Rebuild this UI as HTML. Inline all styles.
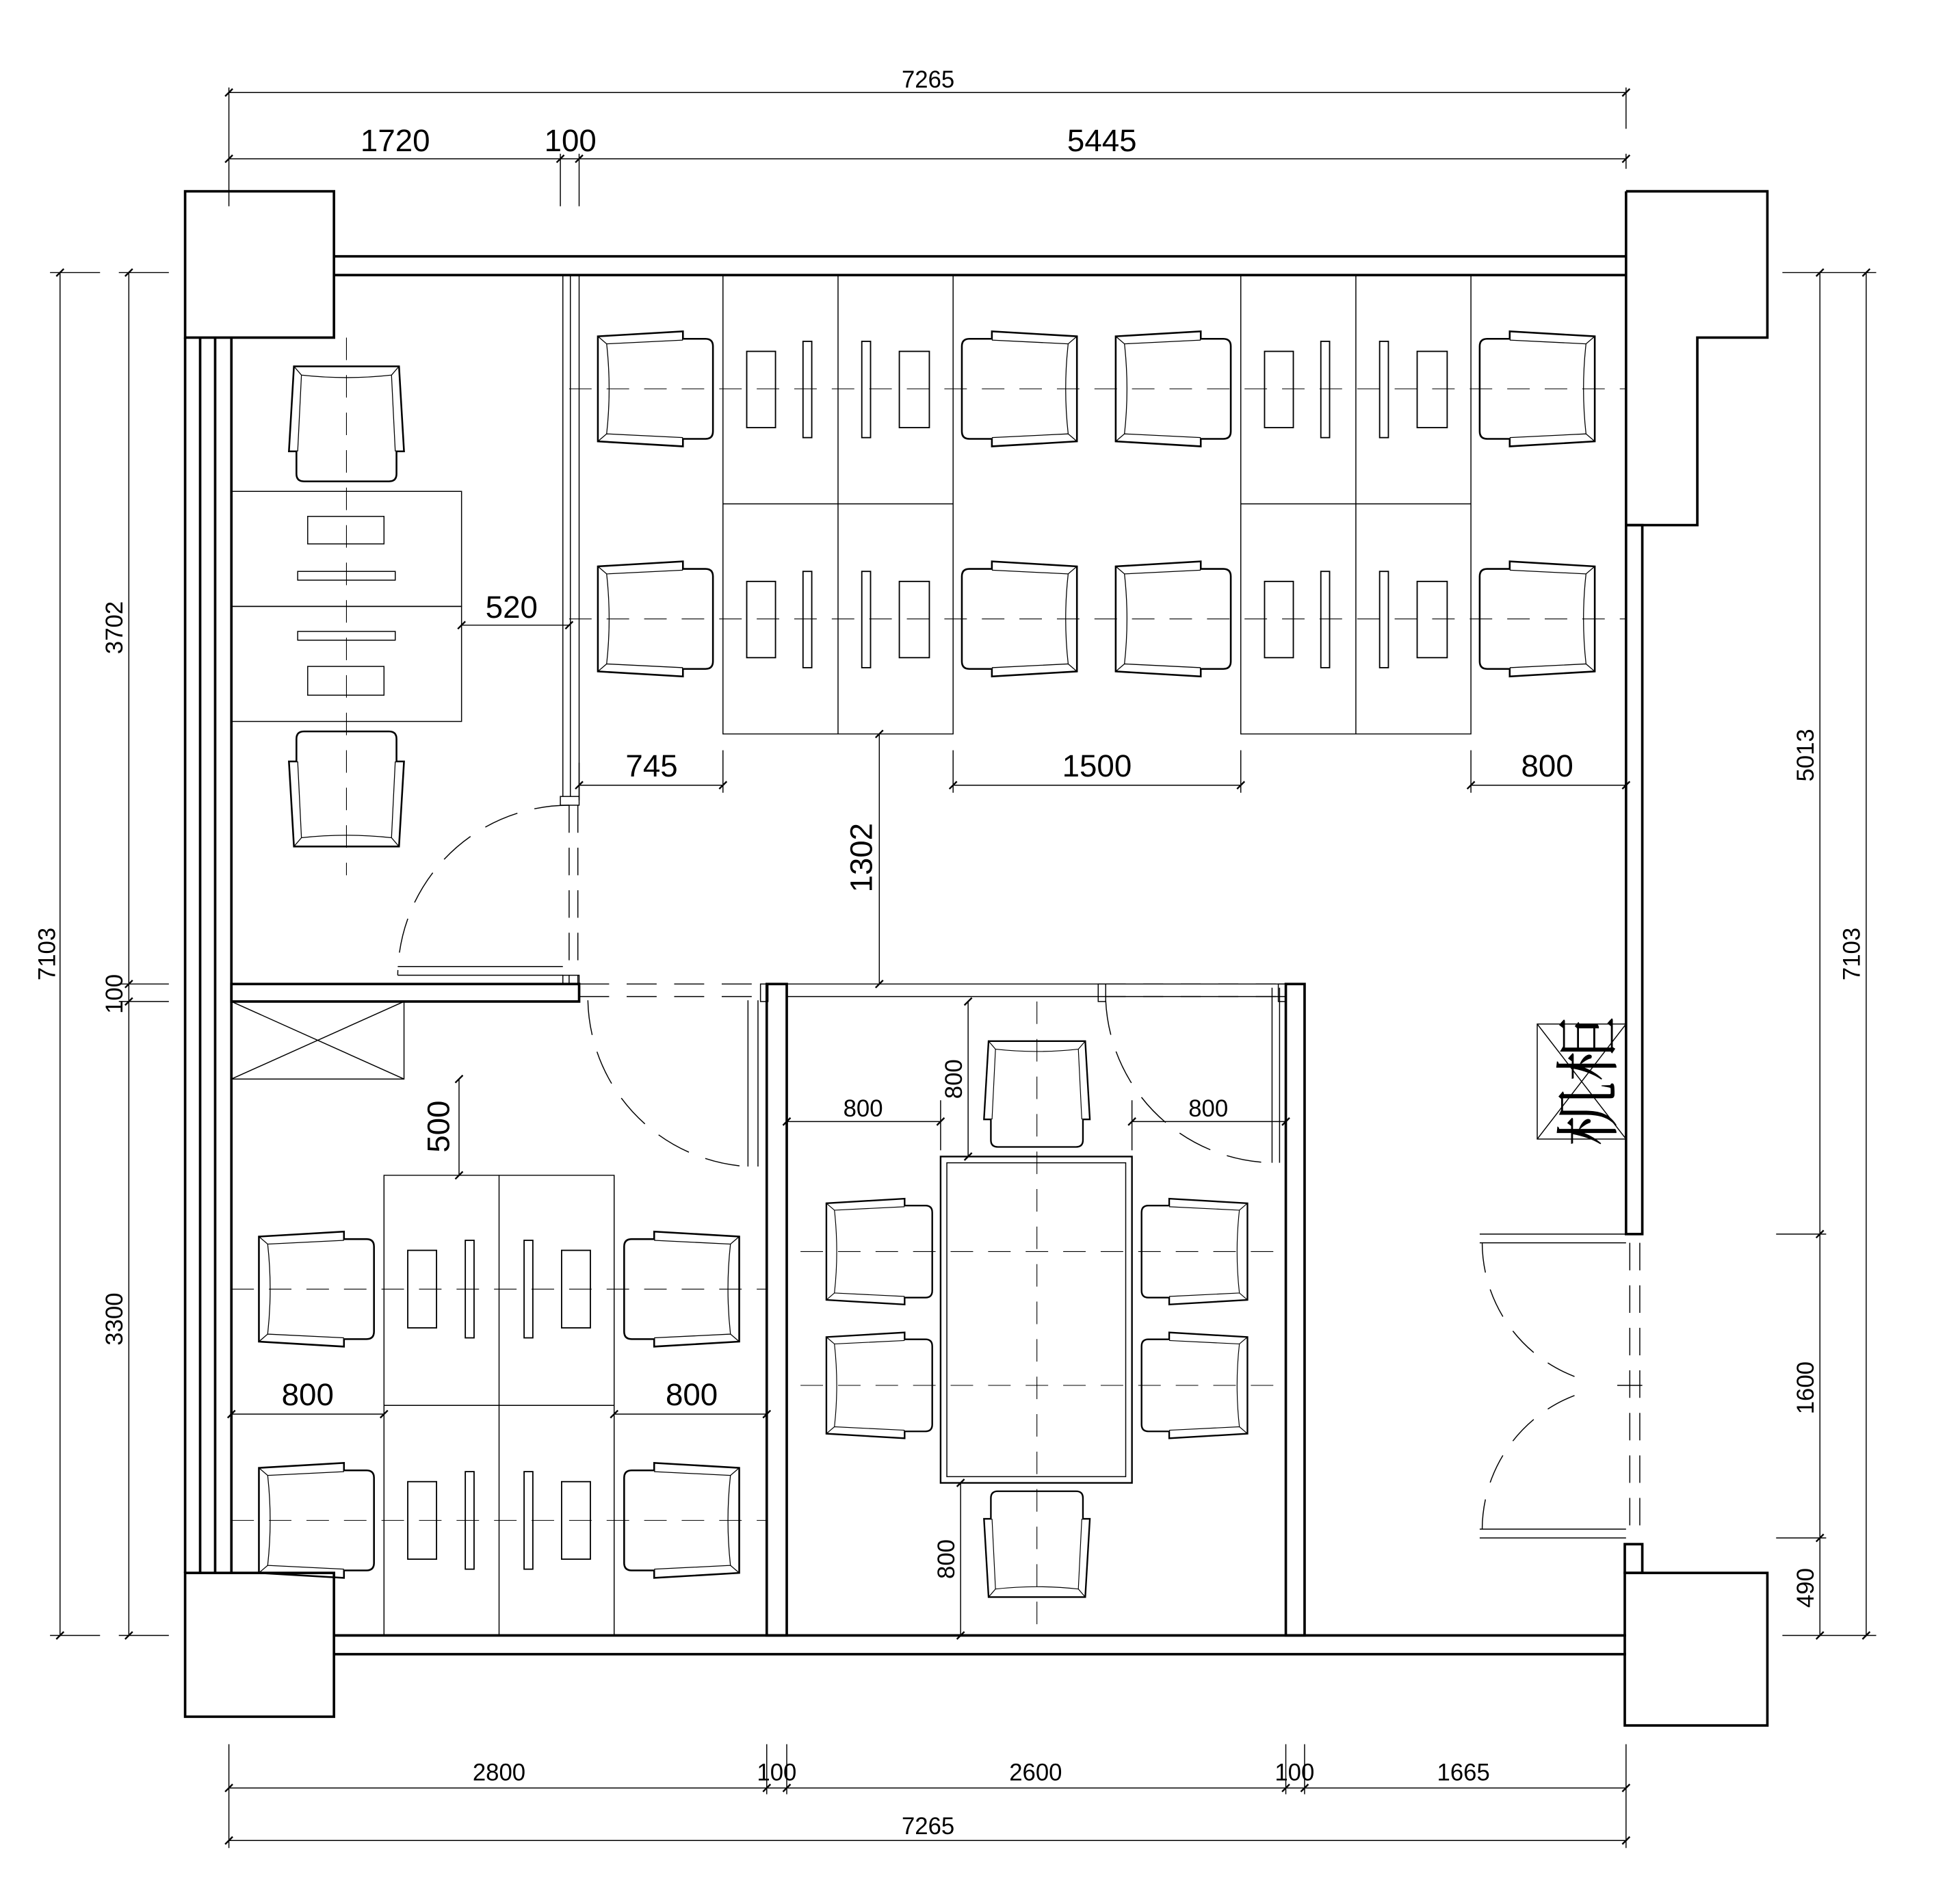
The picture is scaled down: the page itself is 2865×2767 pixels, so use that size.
<!DOCTYPE html>
<html><head><meta charset="utf-8"><style>
html,body{margin:0;padding:0;background:#fff;}
svg{display:block;}
text{font-family:"Liberation Sans","Noto Sans CJK SC",sans-serif;fill:#000;}
</style></head><body>
<svg width="2865" height="2767" viewBox="0 0 1567 1514" preserveAspectRatio="none" xmlns="http://www.w3.org/2000/svg">
<defs>
<g id="ch" fill="none" stroke="#000">
<path d="M0,4 L68,0 L68,6 L86,6 Q92,6 92,12 L92,80 Q92,86 86,86 L68,86 L68,92 L0,88 Z" stroke-width="1.4"/>
<path d="M0,4 L7,10 L68,7 M0,88 L7,82 L68,85 M7,10 Q11,46 7,82" stroke-width="0.7"/>
</g>
<g id="tk"><path d="M-3,3 L3,-3" stroke="#000" stroke-width="1.3"/></g>
</defs>
<rect x="0" y="0" width="1600" height="1520" fill="#fff"/>
<g fill="none" stroke="#000" stroke-width="0.8">
<path d="M183,74H1300M183,127H1300M183,70V165M1300,70V103M1300,123V135M448,123V165M463,123V165"/>
<path d="M183,1430H1300M183,1472H1300M183,1395V1478M1300,1395V1478M613,1395V1435M629,1395V1435M1028,1395V1435M1043,1395V1435"/>
<path d="M48,218V1308M103,218V1308M40,218H80M95,218H135M95,787H135M95,801H135M40,1308H80M95,1308H135"/>
<path d="M1492,218V1308M1455,218V1308M1425,218H1500M1425,1308H1500M1420,987H1460M1420,1230H1460"/>
</g>
<g>
<use href="#tk" x="183" y="74"/><use href="#tk" x="1300" y="74"/>
<use href="#tk" x="183" y="127"/><use href="#tk" x="448" y="127"/><use href="#tk" x="463" y="127"/><use href="#tk" x="1300" y="127"/>
<use href="#tk" x="183" y="1430"/><use href="#tk" x="613" y="1430"/><use href="#tk" x="629" y="1430"/><use href="#tk" x="1028" y="1430"/><use href="#tk" x="1043" y="1430"/><use href="#tk" x="1300" y="1430"/>
<use href="#tk" x="183" y="1472"/><use href="#tk" x="1300" y="1472"/>
<use href="#tk" x="48" y="218"/><use href="#tk" x="48" y="1308"/><use href="#tk" x="103" y="218"/><use href="#tk" x="103" y="787"/><use href="#tk" x="103" y="801"/><use href="#tk" x="103" y="1308"/>
<use href="#tk" x="1492" y="218"/><use href="#tk" x="1492" y="1308"/><use href="#tk" x="1455" y="218"/><use href="#tk" x="1455" y="987"/><use href="#tk" x="1455" y="1230"/><use href="#tk" x="1455" y="1308"/>
</g>
<g fill="none" stroke="#000" stroke-width="2">
<rect x="148" y="153" width="119" height="117"/>
<rect x="148" y="1258" width="119" height="115"/>
<path d="M267,205H1300M267,220H1300M267,1308H1300M267,1323H1300"/>
<path d="M148,270V1258M160,270V1258M172,270V1258M185,270V1258"/>
<path d="M1300,153H1413V270H1357V420H1300V153"/>
<rect x="1300" y="420" width="13" height="567"/>
<rect x="1299" y="1258" width="114" height="122"/>
<rect x="1299" y="1235" width="14" height="23"/>
<rect x="185" y="787" width="278" height="14"/>
<rect x="613" y="787" width="16" height="521"/>
<rect x="1028" y="787" width="15" height="521"/>
</g>
<g fill="none" stroke="#000" stroke-width="0.8">
<path d="M450,220V637M456,220V637M463,220V637"/>
<rect x="448" y="637" width="15" height="7"/>
<path d="M455,644V787" stroke-dasharray="22,12"/><path d="M462,644V787" stroke-dasharray="22,12"/>
<path d="M318,773H450M318,780H450"/>
<path d="M455,644 A137,137 0 0 0 318,780" stroke-dasharray="28,14"/>
<rect x="450" y="780" width="13" height="7"/>
<path d="M463,787H613M463,797H613" stroke-dasharray="24,14"/>
<path d="M629,787H1028M629,797H1028"/>
<rect x="608" y="787" width="6" height="14"/><rect x="878" y="787" width="6" height="14"/><rect x="1022" y="787" width="6" height="14"/>
<path d="M598,800V933M606,800V933"/>
<path d="M470,800 A136,136 0 0 0 598,933" stroke-dasharray="28,14"/>
<path d="M1017,790V930M1023,790V930"/>
<path d="M884,800 A136,136 0 0 0 1020,930" stroke-dasharray="28,14"/>
<path d="M884,787H1022M884,797H1022" stroke-dasharray="16,14"/>
<path d="M1183,987H1300M1183,994H1300M1183,1223H1300M1183,1230H1300"/>
<path d="M1303,994V1223M1311,994V1223" stroke-dasharray="22,12"/>
<path d="M1185,994 A115,115 0 0 0 1268,1104" stroke-dasharray="24,14"/>
<path d="M1185,1223 A115,115 0 0 1 1268,1113" stroke-dasharray="24,14"/>
<path d="M1293,1108H1313"/>
<rect x="185" y="801" width="138" height="62"/><path d="M185,801L323,863M323,801L185,863"/>
<rect x="1229" y="819" width="71" height="92"/><path d="M1229,819L1300,911M1300,819L1229,911"/>
<path d="M578,220V587H762V220M670,220V587M578,403H762M992,220V587H1176V220M1084,220V587M992,403H1176"/>
<rect x="185" y="393" width="184" height="92"/><rect x="185" y="485" width="184" height="92"/>
<rect x="246" y="413" width="61" height="22"/><rect x="238" y="457" width="78" height="7"/>
<rect x="238" y="505" width="78" height="7"/><rect x="246" y="533" width="61" height="23"/>
<path d="M307,1308V940H491V1308M399,940V1308M307,1124H491"/>
<rect x="752" y="925" width="153" height="261" stroke-width="1.3"/><rect x="757" y="930" width="143" height="251"/>
</g>
<g fill="none" stroke="#000" stroke-width="1">
<g id="pairA"><rect x="597" y="281" width="23" height="61"/><rect x="642" y="273" width="7" height="77"/><rect x="689" y="273" width="7" height="77"/><rect x="719" y="281" width="24" height="61"/></g>
<use href="#pairA" y="184"/><use href="#pairA" x="414"/><use href="#pairA" x="414" y="184"/>
<g id="pairB"><rect x="326" y="1000" width="23" height="62"/><rect x="372" y="992" width="7" height="78"/><rect x="419" y="992" width="7" height="78"/><rect x="449" y="1000" width="23" height="62"/></g>
<use href="#pairB" y="185"/>
</g>
<g fill="none" stroke="#000" stroke-width="0.6" stroke-dasharray="18,12">
<path d="M455,311H1300M455,495H1300M277,270V700M829,801V1300M640,1001H1020M640,1108H1020M185,1031H613M185,1216H613"/>
</g>
<g fill="#fff">
<use href="#ch" transform="translate(524,311) rotate(0) translate(-46,-46)"/>
<use href="#ch" transform="translate(524,495) rotate(0) translate(-46,-46)"/>
<use href="#ch" transform="translate(815,311) rotate(180) translate(-46,-46)"/>
<use href="#ch" transform="translate(815,495) rotate(180) translate(-46,-46)"/>
<use href="#ch" transform="translate(938,311) rotate(0) translate(-46,-46)"/>
<use href="#ch" transform="translate(938,495) rotate(0) translate(-46,-46)"/>
<use href="#ch" transform="translate(1229,311) rotate(180) translate(-46,-46)"/>
<use href="#ch" transform="translate(1229,495) rotate(180) translate(-46,-46)"/>
<use href="#ch" transform="translate(277,339) rotate(90) translate(-46,-46)"/>
<use href="#ch" transform="translate(277,631) rotate(-90) translate(-46,-46)"/>
<use href="#ch" transform="translate(253,1031) rotate(0) translate(-46,-46)"/>
<use href="#ch" transform="translate(253,1216) rotate(0) translate(-46,-46)"/>
<use href="#ch" transform="translate(545,1031) rotate(180) translate(-46,-46)"/>
<use href="#ch" transform="translate(545,1216) rotate(180) translate(-46,-46)"/>
<use href="#ch" transform="translate(829,875) rotate(90) scale(0.92) translate(-46,-46)"/>
<use href="#ch" transform="translate(829,1235) rotate(-90) scale(0.92) translate(-46,-46)"/>
<use href="#ch" transform="translate(703,1001) rotate(0) scale(0.92) translate(-46,-46)"/>
<use href="#ch" transform="translate(703,1108) rotate(0) scale(0.92) translate(-46,-46)"/>
<use href="#ch" transform="translate(955,1001) rotate(180) scale(0.92) translate(-46,-46)"/>
<use href="#ch" transform="translate(955,1108) rotate(180) scale(0.92) translate(-46,-46)"/>
</g>
<g fill="none" stroke="#000" stroke-width="0.8">
<path d="M369,500H455M463,628H578M463,610V640M578,600V634M762,628H992M762,600V634M992,600V634M1176,628H1300M1176,600V634M703,587V787M629,897H752M629,880V905M752,880V920M905,897H1028M905,880V920M774,801V925M768,1186V1308M367,863V940M185,1131H307M491,1131H613"/>
</g>
<g>
<use href="#tk" x="369" y="500"/><use href="#tk" x="455" y="500"/><use href="#tk" x="463" y="628"/><use href="#tk" x="578" y="628"/><use href="#tk" x="762" y="628"/><use href="#tk" x="992" y="628"/><use href="#tk" x="1176" y="628"/><use href="#tk" x="1300" y="628"/>
<use href="#tk" x="703" y="587"/><use href="#tk" x="703" y="787"/><use href="#tk" x="629" y="897"/><use href="#tk" x="752" y="897"/><use href="#tk" x="905" y="897"/><use href="#tk" x="1028" y="897"/>
<use href="#tk" x="774" y="801"/><use href="#tk" x="774" y="925"/><use href="#tk" x="768" y="1186"/><use href="#tk" x="768" y="1308"/><use href="#tk" x="367" y="863"/><use href="#tk" x="367" y="940"/>
<use href="#tk" x="185" y="1131"/><use href="#tk" x="307" y="1131"/><use href="#tk" x="491" y="1131"/><use href="#tk" x="613" y="1131"/>
</g>
<g text-anchor="middle">
<text x="742" y="70" font-size="19">7265</text>
<text x="316" y="121" font-size="25">1720</text>
<text x="456" y="121" font-size="25">100</text>
<text x="881" y="121" font-size="25">5445</text>
<text x="409" y="494" font-size="25">520</text>
<text x="521" y="621" font-size="25">745</text>
<text x="877" y="621" font-size="25">1500</text>
<text x="1237" y="621" font-size="25">800</text>
<text x="690" y="893" font-size="19">800</text>
<text x="966" y="893" font-size="19">800</text>
<text x="246" y="1124" font-size="25">800</text>
<text x="553" y="1124" font-size="25">800</text>
<text x="399" y="1424" font-size="19">2800</text>
<text x="621" y="1424" font-size="19">100</text>
<text x="828" y="1424" font-size="19">2600</text>
<text x="1035" y="1424" font-size="19">100</text>
<text x="1170" y="1424" font-size="19">1665</text>
<text x="742" y="1467" font-size="19">7265</text>
<text transform="translate(697,686) rotate(-90)" font-size="25">1302</text>
<text transform="translate(359,901) rotate(-90)" font-size="25">500</text>
<text transform="translate(769,863) rotate(-90)" font-size="19">800</text>
<text transform="translate(763,1247) rotate(-90)" font-size="19">800</text>
<text transform="translate(44,763) rotate(-90)" font-size="19">7103</text>
<text transform="translate(98,502) rotate(-90)" font-size="19">3702</text>
<text transform="translate(98,795) rotate(-90)" font-size="19">100</text>
<text transform="translate(98,1055) rotate(-90)" font-size="19">3300</text>
<text transform="translate(1487,763) rotate(-90)" font-size="19">7103</text>
<text transform="translate(1450,604) rotate(-90)" font-size="19">5013</text>
<text transform="translate(1450,1110) rotate(-90)" font-size="19">1600</text>
<text transform="translate(1450,1270) rotate(-90)" font-size="19">490</text>
<text transform="translate(1288,865) rotate(-90)" font-size="52" style="font-family:'Noto Serif CJK SC','Noto Sans CJK SC',serif">机柜</text>
</g>
</svg>
</body></html>
